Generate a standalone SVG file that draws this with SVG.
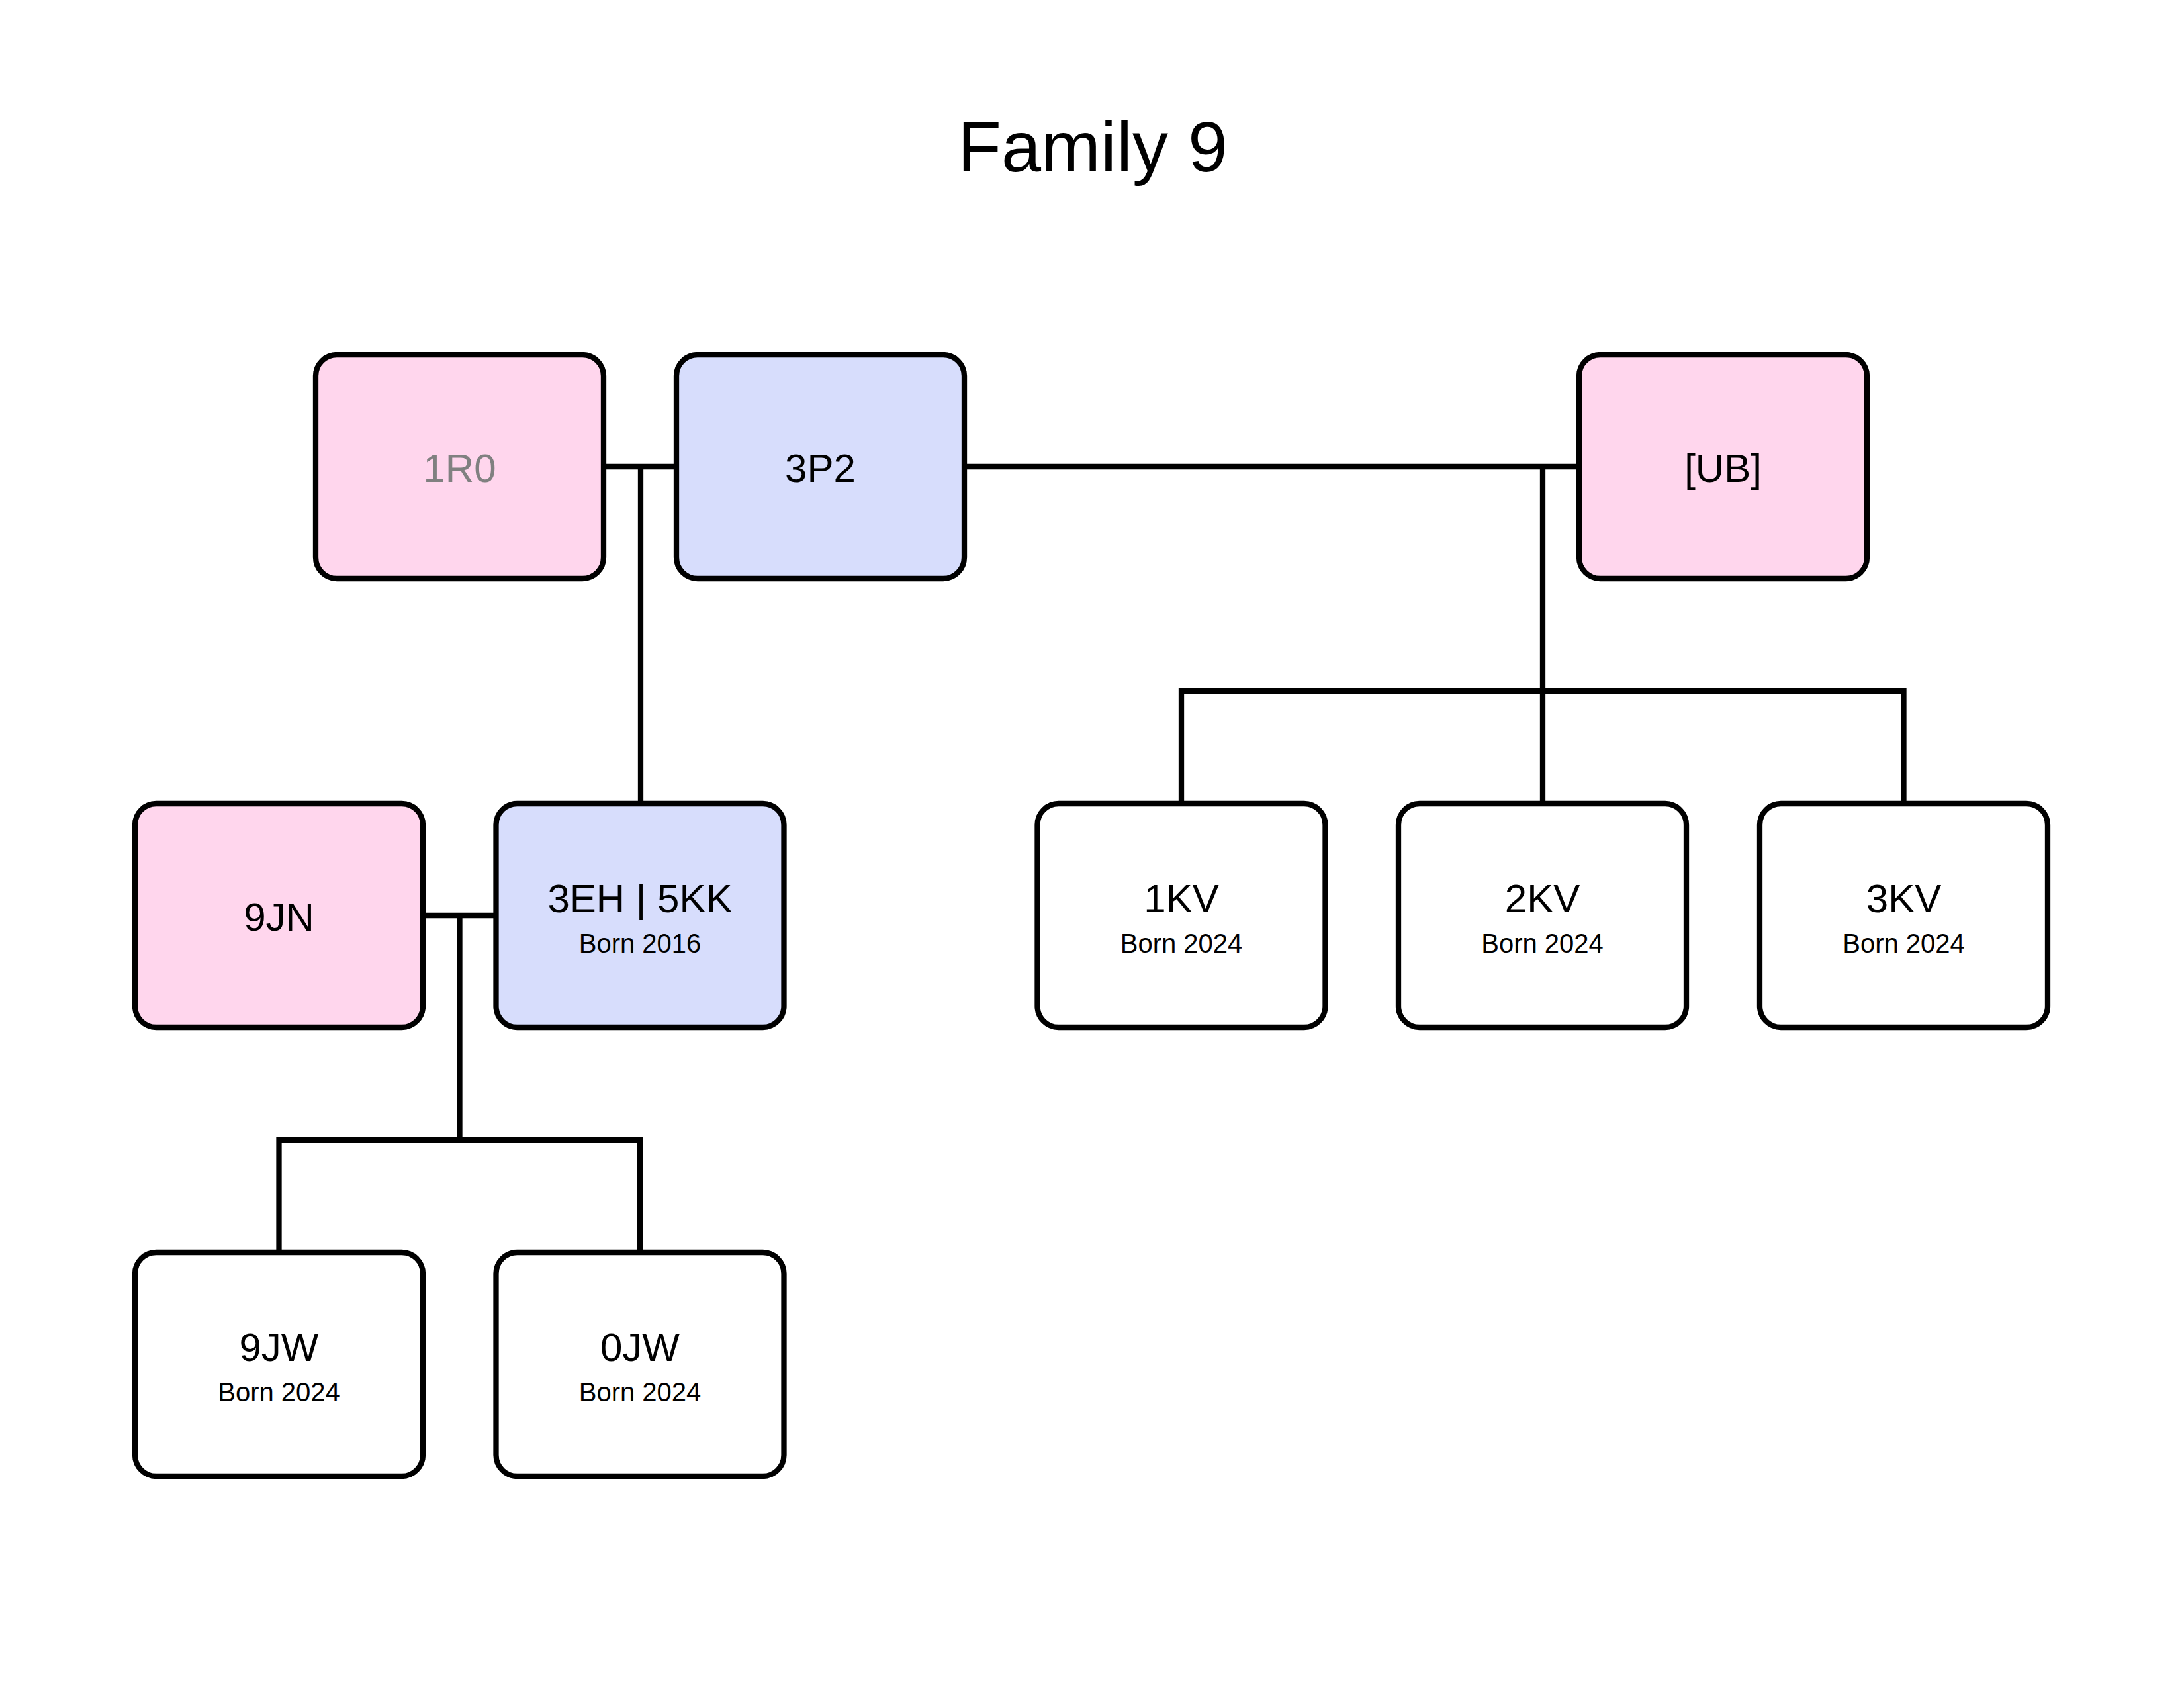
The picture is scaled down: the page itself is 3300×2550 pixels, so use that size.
<svg xmlns="http://www.w3.org/2000/svg" width="3300" height="2550" viewBox="0 0 3300 2550">
<style>
.box{stroke:#000;stroke-width:8.3}
.f{fill:#FFD6ED}
.m{fill:#D7DDFC}
.w{fill:#FFFFFF}
.name{font-family:"Liberation Sans",Arial,sans-serif;font-size:60px;text-anchor:middle;fill:#000}
.born{font-family:"Liberation Sans",Arial,sans-serif;font-size:40px;text-anchor:middle;fill:#000}
.dim{fill:#808080}
.title{font-family:"Liberation Sans",Arial,sans-serif;font-size:108px;text-anchor:middle;fill:#000}
.c{fill:none;stroke:#000;stroke-width:8.3;stroke-linejoin:miter;stroke-linecap:butt}
</style>
<rect width="3300" height="2550" fill="#FFFFFF"/>
<text class="title" x="1651" y="259">Family 9</text>
<g id="connectors">
<path class="c" d="M913,705 H1022"/>
<path class="c" d="M1457,705 H2386"/>
<path class="c" d="M968,705 V1214"/>
<path class="c" d="M2331,705 V1214"/>
<path class="c" d="M1785,1214 V1044 H2876.5 V1214"/>
<path class="c" d="M639,1383 H749.5"/>
<path class="c" d="M694.5,1383 V1722"/>
<path class="c" d="M421.5,1892 V1722 H967 V1892"/>
</g>
<g id="node-1R0"><rect class="box f" x="477" y="536" width="435" height="338" rx="32"/><text class="name dim" x="694.5" y="728">1R0</text></g>
<g id="node-3P2"><rect class="box m" x="1022" y="536" width="435" height="338" rx="32"/><text class="name" x="1239.5" y="728">3P2</text></g>
<g id="node-UB"><rect class="box f" x="2386" y="536" width="435" height="338" rx="32"/><text class="name" x="2603.5" y="728">[UB]</text></g>
<g id="node-9JN"><rect class="box f" x="204" y="1214" width="435" height="338" rx="32"/><text class="name" x="421.5" y="1406">9JN</text></g>
<g id="node-3EH"><rect class="box m" x="749.5" y="1214" width="435" height="338" rx="32"/><text class="name" x="967" y="1378">3EH | 5KK</text><text class="born" x="967" y="1439">Born 2016</text></g>
<g id="node-1KV"><rect class="box w" x="1567.5" y="1214" width="435" height="338" rx="32"/><text class="name" x="1785" y="1378">1KV</text><text class="born" x="1785" y="1439">Born 2024</text></g>
<g id="node-2KV"><rect class="box w" x="2113" y="1214" width="435" height="338" rx="32"/><text class="name" x="2330.5" y="1378">2KV</text><text class="born" x="2330.5" y="1439">Born 2024</text></g>
<g id="node-3KV"><rect class="box w" x="2659" y="1214" width="435" height="338" rx="32"/><text class="name" x="2876.5" y="1378">3KV</text><text class="born" x="2876.5" y="1439">Born 2024</text></g>
<g id="node-9JW"><rect class="box w" x="204" y="1892" width="435" height="338" rx="32"/><text class="name" x="421.5" y="2056">9JW</text><text class="born" x="421.5" y="2117">Born 2024</text></g>
<g id="node-0JW"><rect class="box w" x="749.5" y="1892" width="435" height="338" rx="32"/><text class="name" x="967" y="2056">0JW</text><text class="born" x="967" y="2117">Born 2024</text></g>
</svg>
